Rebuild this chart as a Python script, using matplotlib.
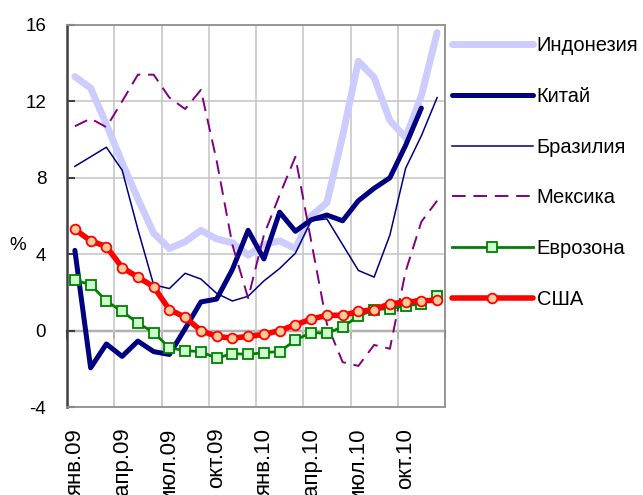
import numpy as np
import matplotlib
matplotlib.use('Agg')
import matplotlib.pyplot as plt

# months jan.09 .. dec.10
months = np.arange(24)
tick_pos = np.arange(0, 24, 3)
tick_labels = ['янв.09', 'апр.09', 'июл.09', 'окт.09', 'янв.10', 'апр.10', 'июл.10', 'окт.10']

indonesia = [13.3, 12.7, 10.8, 8.8, 6.9, 5.1, 4.3, 4.65, 5.25, 4.8, 4.6, 3.95,
             4.5, 4.7, 4.3, 6.0, 6.7, 10.2, 14.1, 13.25, 11.0, 10.1, 12.3, 15.6]
china = [4.2, -1.95, -0.7, -1.35, -0.55, -1.1, -1.25, 0.1, 1.5, 1.65, 3.2, 5.25,
         3.75, 6.2, 5.2, 5.8, 6.05, 5.75, 6.8, 7.45, 8.0, 9.7, 11.65, np.nan]
brazil = [8.6, 9.1, 9.6, 8.4, 5.3, 2.4, 2.2, 3.0, 2.7, 1.95, 1.55, 1.8,
          2.6, 3.25, 4.05, 5.75, 5.85, 4.5, 3.15, 2.8, 5.0, 8.5, 10.2, 12.2]
mexico = [10.7, 11.1, 10.65, 12.0, 13.4, 13.4, 12.2, 11.6, 12.6, 8.9, 4.5, 1.7,
          5.0, 7.1, 9.1, 4.7, 0.35, -1.65, -1.85, -0.75, -0.95, 3.1, 5.7, 6.8]
eurozone = [2.65, 2.4, 1.55, 1.0, 0.4, -0.1, -0.9, -1.05, -1.1, -1.45, -1.2, -1.25,
            -1.15, -1.1, -0.5, -0.1, -0.15, 0.2, 0.75, 1.1, 1.15, 1.3, 1.4, 1.8]
usa = [5.3, 4.7, 4.4, 3.3, 2.8, 2.3, 1.1, 0.7, 0.0, -0.3, -0.4, -0.3,
       -0.2, 0.0, 0.3, 0.6, 0.8, 0.8, 1.0, 1.1, 1.4, 1.5, 1.55, 1.6]

plt.rcParams['font.family'] = ['Liberation Sans', 'DejaVu Sans']
plt.rcParams['axes.unicode_minus'] = False

fig = plt.figure(figsize=(6.43, 4.95), dpi=100)
ax = fig.add_axes([67 / 643, 1 - 407 / 495, 378 / 643, 382 / 495])

ax.plot(months, indonesia, color='#ccccff', lw=5, solid_capstyle='round', solid_joinstyle='round', label='Индонезия')
ax.plot(months, china, color='#000080', lw=3.6, solid_capstyle='round', solid_joinstyle='round', label='Китай')
ax.plot(months, brazil, color='#000080', lw=1.1, label='Бразилия')
ax.plot(months, mexico, color='#800080', lw=1.4, dashes=(7, 4), label='Мексика')
ax.plot(months, eurozone, color='#008000', lw=2, marker='s', ms=6.5, mfc='#ccffcc', mec='#008000', mew=1.3,
        label='Еврозона')
ax.plot(months, usa, color='#ff0000', lw=4, marker='o', ms=7, mfc='#ffcc99', mec='#ff0000', mew=1.3,
        solid_capstyle='round', label='США')

ax.set_xlim(-0.5, 23.5)
ax.set_ylim(-4, 16)
ax.set_yticks(np.arange(-4, 17, 4))
ax.set_xticks(tick_pos, tick_labels, rotation=90, fontsize=16)
ax.set_xticks(np.arange(-0.5, 24, 3), minor=True)
ax.tick_params(axis='x', which='both', length=0, pad=15)
ax.tick_params(axis='y', direction='in', length=6, width=1.5, color='#404040', labelsize=13.5, pad=15)
ax.grid(axis='x', which='minor', color='#c8c8c8', lw=1.2)
ax.grid(axis='y', which='major', color='#c8c8c8', lw=1.2)
ax.set_axisbelow(True)

for side in ['top', 'right', 'bottom']:
    ax.spines[side].set_color('#909090')
    ax.spines[side].set_linewidth(1.3)
ax.spines['left'].set_color('#404040')
ax.spines['left'].set_linewidth(1.8)

# category axis crossing at zero
zero_ticks = np.arange(-0.5, 24, 3)
zero_ax = ax.secondary_xaxis(4 / 20)
zero_ax.set_xticks(zero_ticks, [''] * len(zero_ticks))
zero_ax.tick_params(direction='out', length=6, width=1.3, color='#404040')
zero_ax.spines['bottom'].set_color('#404040')
zero_ax.spines['bottom'].set_linewidth(1.6)

fig.text(18 / 643, 1 - 245 / 495, '%', fontsize=13.5, ha='center', va='center')

ax.legend(loc='upper left', bbox_to_anchor=(452 / 643, 1 - 36 / 495), bbox_transform=fig.transFigure,
          frameon=False, handlelength=4.0, handletextpad=0.2, labelspacing=1.58,
          borderpad=0, borderaxespad=0, fontsize=14.5)

fig.savefig('out.png', dpi=100)
